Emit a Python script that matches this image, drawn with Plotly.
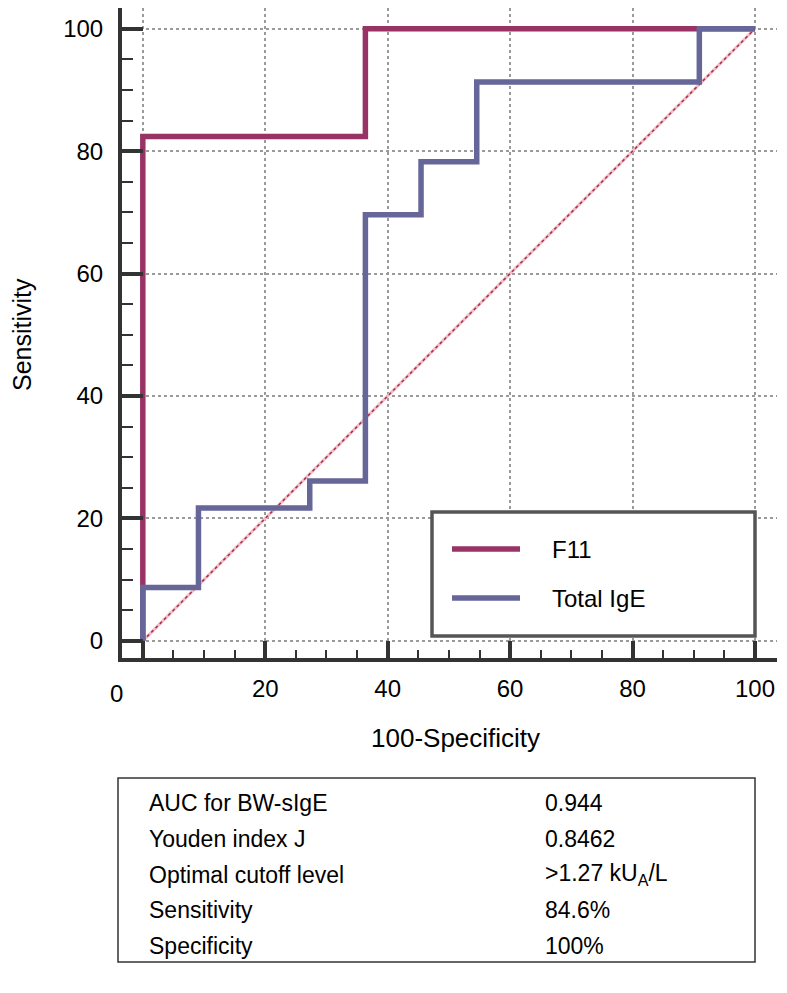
import plotly.graph_objects as go

# ---------------------------------------------------------------------------
# ROC data (100-Specificity vs Sensitivity, in %)
# ---------------------------------------------------------------------------
f11_fpr = [0, 0, 36.36, 100]
f11_tpr = [0, 82.4, 100, 100]

ige_fpr = [0, 0, 9.09, 27.27, 36.36, 45.45, 54.55, 90.91, 100]
ige_tpr = [0, 8.7, 21.7, 26.1, 69.6, 78.3, 91.3, 100, 100]

ref_line = [0, 100]

series_names = ["F11", "Total IgE"]
series_colors = ["#993366", "#666699"]

tick_vals = [0, 20, 40, 60, 80, 100]
x_tick_text = ["", "20", "40", "60", "80", "100"]  # "0" is drawn separately

table_labels = ["AUC for BW-sIgE", "Youden index J", "Optimal cutoff level",
                "Sensitivity", "Specificity"]
table_values = ["0.944", "0.8462", ">1.27 kU<sub>A</sub>/L", "84.6%", "100%"]

FONT = "Liberation Sans, Arial, sans-serif"

# plot area on the page, in pixels (left, top, right, bottom)
L, T, R, B = 122, 8, 777, 658
PAGE_PAD = 8  # default body margin of the html page
FIG_W, FIG_H = 771, 977


def px_x(p):
    return (p - L) / (R - L)


def px_y(p):
    return (B - p) / (B - T)


def note(x, y, text, size, **kw):
    return dict(x=px_x(x), y=px_y(y), xref="paper", yref="paper",
                text=text, showarrow=False, yanchor="middle",
                font=dict(family=FONT, size=size, color="black"), **kw)


fig = go.Figure()

# diagonal reference line
fig.add_trace(go.Scatter(x=ref_line, y=ref_line, mode="lines",
                         line=dict(color="#f3bcc6", width=3),
                         hoverinfo="skip", showlegend=False))
fig.add_trace(go.Scatter(x=ref_line, y=ref_line, mode="lines",
                         line=dict(color="#a8304c", width=1.5, dash="dot"),
                         hoverinfo="skip", showlegend=False))

fig.add_trace(go.Scatter(x=f11_fpr, y=f11_tpr, mode="lines", line_shape="hv",
                         name=series_names[0],
                         line=dict(color=series_colors[0], width=5.5),
                         showlegend=False))
fig.add_trace(go.Scatter(x=ige_fpr, y=ige_tpr, mode="lines", line_shape="hv",
                         name=series_names[1],
                         line=dict(color=series_colors[1], width=5.5),
                         showlegend=False))

axis_common = dict(
    tickvals=tick_vals,
    showline=True, linewidth=4, linecolor="#333333",
    ticks="inside", tickwidth=4, tickcolor="#333333",
    showgrid=True, gridcolor="#9a9a9a", griddash="dot", gridwidth=1.5,
    zeroline=False,
    tickfont=dict(family=FONT, size=24, color="black"),
    minor=dict(dtick=5, ticks="inside", tickwidth=2, tickcolor="#333333",
               showgrid=False),
    fixedrange=True,
)

fig.update_xaxes(**axis_common, range=[-3.4, 103.6], ticklen=17,
                 ticktext=x_tick_text)
fig.update_xaxes(minor_ticklen=8, ticklabelstandoff=6)
fig.update_yaxes(**axis_common, range=[-2.8, 103.4], ticklen=21,
                 ticktext=[str(v) for v in tick_vals])
fig.update_yaxes(minor_ticklen=11, ticklabelstandoff=10)

annotations = []
# the "0" label of the x axis sits left of its tick in the original
annotations.append(note(116, 693, "0", 24, xanchor="center"))
# axis titles
annotations.append(note(455, 738, "100-Specificity", 26, xanchor="center"))
annotations.append(note(22, 335, "Sensitivity", 25, xanchor="center",
                        textangle=-90))

shapes = []
# legend box
shapes.append(dict(type="rect", xref="paper", yref="paper",
                   x0=px_x(432), x1=px_x(755), y0=px_y(636), y1=px_y(512),
                   line=dict(color="#555555", width=3.5), fillcolor="white",
                   layer="above"))
for i, (name, color) in enumerate(zip(series_names, series_colors)):
    ly = 549 + i * 49
    shapes.append(dict(type="line", xref="paper", yref="paper",
                       x0=px_x(452), x1=px_x(520), y0=px_y(ly), y1=px_y(ly),
                       line=dict(color=color, width=5.5), layer="above"))
    annotations.append(note(550, ly, name, 24, xanchor="left"))

# summary table
shapes.append(dict(type="rect", xref="paper", yref="paper",
                   x0=px_x(118), x1=px_x(755), y0=px_y(962), y1=px_y(778),
                   line=dict(color="#333333", width=1.5)))
for i, (lab, val) in enumerate(zip(table_labels, table_values)):
    ty = 803 + i * 35.8
    annotations.append(note(147, ty, lab, 23, xanchor="left"))
    annotations.append(note(543, ty, val, 23, xanchor="left"))

fig.update_layout(
    width=FIG_W, height=FIG_H,
    margin=dict(l=L - PAGE_PAD, r=PAGE_PAD + FIG_W - R,
                t=T - PAGE_PAD, b=PAGE_PAD + FIG_H - B),
    paper_bgcolor="white", plot_bgcolor="white",
    font=dict(family=FONT, color="black"),
    shapes=shapes, annotations=annotations,
    showlegend=False,
)

fig.write_html("out.html")
